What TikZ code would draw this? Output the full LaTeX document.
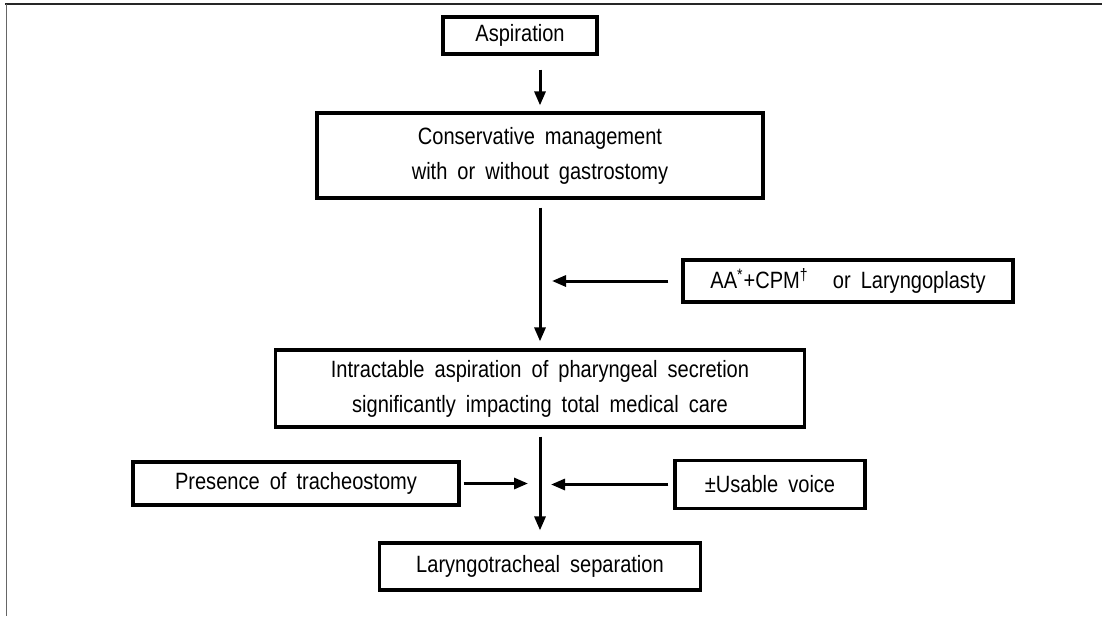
\documentclass[tikz,border=0pt]{standalone}
\usepackage{fontspec}
\setmainfont{Liberation Sans}[FakeStretch=0.85,WordSpace=1.8]
\usetikzlibrary{positioning, arrows.meta}

\begin{document}
\begin{tikzpicture}[x=0.5pt,y=-0.5pt,on grid,>={Triangle[length=7pt,width=5.5pt]},
  flowbox/.style={draw, line width=1.6pt, align=center, inner sep=0pt,
    font=\fontsize{11.8}{17.5}\selectfont},
  every edge/.style={draw, line width=1.5pt}]
\useasboundingbox (0,0) rectangle (1102,616);
\draw[black!85, line width=0.6pt] (5,4) -- (1102,4);
\draw[black!60, line width=0.5pt] (6,4) -- (6,616);

\node[flowbox, minimum width=223pt, minimum height=42.5pt] (cons) at (540,155.5) {Conservative management\\with or without gastrostomy};
\node[flowbox, minimum width=77pt, minimum height=18.5pt, above=60pt of cons, xshift=-10pt] (asp) {Aspiration};
\node[flowbox, minimum width=165pt, minimum height=21pt, below right=62.75pt and 154pt of cons] (aa) {AA\textsuperscript{*}+CPM\textsuperscript{\textdagger}\hspace{0.6em} or Laryngoplasty};
\node[flowbox, minimum width=264.5pt, minimum height=38.5pt, below=116.5pt of cons] (intr) {Intractable aspiration of pharyngeal secretion\\significantly impacting total medical care};
\node[flowbox, minimum width=163pt, minimum height=21.5pt, below left=47.5pt and 122pt of intr] (pres) {Presence of tracheostomy};
\node[flowbox, minimum width=95pt, minimum height=24pt, below right=48pt and 115pt of intr] (voice) {±Usable voice};
\node[flowbox, minimum width=160.5pt, minimum height=23.5pt, below=89pt of intr] (lts) {Laryngotracheal separation};

\path[->]
(asp.south -| cons.north) edge[shorten <=7pt, shorten >=3pt] (cons.north)
(cons.south) edge[shorten <=4pt, shorten >=3.5pt] (intr.north)
(aa.west) edge[shorten <=6.5pt, shorten >=6pt] (aa.west -| cons.south)
(intr.south) edge[shorten <=4pt, shorten >=5.5pt] (lts.north)
(pres.east) edge[shorten <=1.5pt, shorten >=6pt] (pres.east -| lts.north)
(voice.west) edge[shorten <=2.5pt, shorten >=5.5pt] (voice.west -| lts.north)
;
\end{tikzpicture}
\end{document}
